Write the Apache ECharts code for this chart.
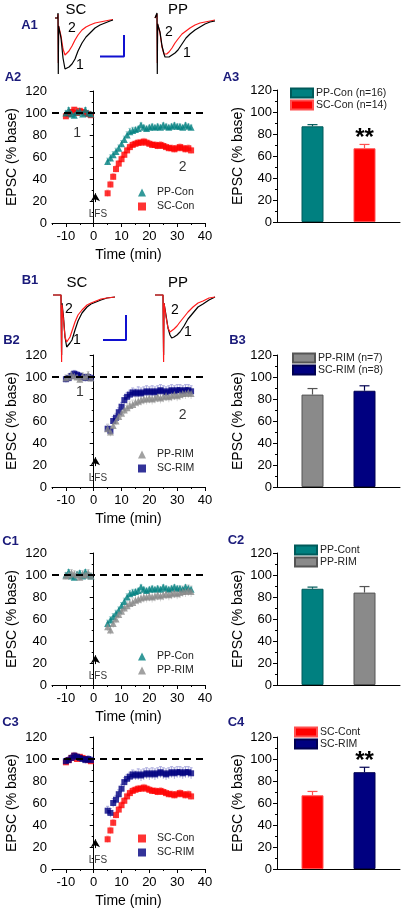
<!DOCTYPE html>
<html>
<head>
<meta charset="utf-8">
<script src="https://cdn.jsdelivr.net/npm/echarts@6/dist/echarts.min.js"></script>
<style>
html,body{margin:0;padding:0;background:#fff;}
#c{width:403px;height:909px;}
</style>
</head>
<body>
<div id="c"></div>
<script>
// ---------------- DATA ----------------
const T_BASE = [-10,-9,-8,-7,-6,-5,-4,-3,-2,-1];
const T_POST = [5,6,7,8,9,10,11,12,13,14,15,16,17,18,19,20,21,22,23,24,25,26,27,28,29,30,31,32,33,34,35];

const PP_CON_BASE = [100,103,99,98,101,102,99,103,100,99];
const PP_CON_POST = [56,59,62,65,68,72,76,80,83,84,85,86,89,87,86,87,88,87,88,87,89,88,87,88,89,88,88,87,89,88,87];
const SC_CON_BASE = [97,99,101,103,100,102,101,100,99,98];
const SC_CON_POST = [27,35,42,49,54,58,62,66,69,71,72,73,73,74,73,72,71,71,70,71,70,69,68,68,67,68,69,68,67,68,66];
const PP_RIM_BASE = [99,100,102,101,100,98,101,100,102,99];
const PP_RIM_POST = [53,50,56,60,64,67,70,72,74,75,77,78,79,80,80,81,80,81,82,81,82,83,82,83,84,83,84,85,85,86,85];
const SC_RIM_BASE = [98,99,101,103,102,101,100,99,100,99];
const SC_RIM_POST = [53,51,60,63,68,73,79,82,84,86,85,86,85,86,87,86,87,86,87,88,87,86,87,88,87,88,88,87,88,88,87];

// SEM of each time point (faint error bars)
const PP_CON_BASE_SEM = [2,2,2,2,2,2,2,2,2,2];
const PP_CON_POST_SEM = [3,3,3,3,3,3,3,3,3,3,2,2,2,2,2,2,2,2,2,2,2,2,2,2,2,2,2,2,2,2,2];
const SC_CON_BASE_SEM = [2,2,2,2,2,2,2,2,2,2];
const SC_CON_POST_SEM = [3,3,3,3,3,3,3,3,3,3,3,3,3,3,3,3,3,3,3,3,3,3,3,3,3,3,3,3,3,3,3];
const PP_RIM_BASE_SEM = [3,3,3,3,3,3,3,3,3,3];
const PP_RIM_POST_SEM = [4,4,4,4,4,4,4,4,4,4,5,5,5,5,5,5,5,5,5,5,5,5,5,5,5,5,5,5,5,5,5];
const SC_RIM_BASE_SEM = [3,3,3,3,3,3,3,3,3,3];
const SC_RIM_POST_SEM = [4,4,4,4,4,4,4,4,4,4,4,5,5,5,5,5,5,5,5,5,5,5,5,5,5,5,5,5,5,5,5];

const X_TICKS = [-10,0,10,20,30,40];
const X_MINOR = [-15,-5,5,15,25,35];

// bar panels: mean and SEM
const A3_NAMES = ['PP-Con (n=16)','SC-Con (n=14)'];
const A3_MEAN = [87, 67];
const A3_SEM = [1.5, 3.5];
const A3_SIG = ['', '**'];
const B3_NAMES = ['PP-RIM (n=7)','SC-RIM (n=8)'];
const B3_MEAN = [84, 87.5];
const B3_SEM = [5.5, 4.5];
const B3_SIG = ['', ''];
const C2_NAMES = ['PP-Cont','PP-RIM '];
const C2_MEAN = [87.5, 84];
const C2_SEM = [1.5, 5.5];
const C2_SIG = ['', ''];
const C4_NAMES = ['SC-Cont','SC-RIM '];
const C4_MEAN = [67, 88];
const C4_SEM = [3.5, 4.5];
const C4_SIG = ['', '**'];

// example traces (x in sample units, y relative to baseline)
const A1_SC_X  = [0,2.8,3,3.3,3.6,4.2,6,8,10,10.7,12,14,17,20,23,27,31,35,40,45,50,55,58];
const A1_SC_1  = [0,0,5,-56,-8,-6,-20,-40,-51,-52,-51,-49,-46,-41,-33,-25,-19,-15,-10,-7,-5,-3,-2];
const A1_SC_2  = [0,0,4,-45,-8,-6,-18,-31,-37,-37,-36,-33,-28,-22,-17,-12,-9,-7,-5,-4,-3,-2,-1.5];
const A1_PP_X  = [0,1.8,2,2.3,2.6,3.2,5,7,9,10,11.7,14,17,20,23,27,31,35,40,45,50,55,60];
const A1_PP_1  = [0,0,5,-56,-6,-4,-14,-28,-36,-39,-40,-39,-37,-35,-32,-26,-20,-16,-12,-9,-6,-4,-3];
const A1_PP_2  = [0,0,4,-45,-6,-4,-15,-29,-36,-37,-36,-34,-30,-25,-21,-16,-13,-10,-7,-5,-4,-3,-2];
const B1_SC_X  = [0,8,8.3,8.6,9,9.5,10.5,12,13.7,15,17,19,22,25,29,34,38,43,48,54,62];
const B1_SC_1  = [0,0,2,-60,-8,-7,-22,-42,-52,-51,-48,-45,-35,-26,-18,-12,-9,-7,-5,-3,-2];
const B1_SC_2  = [0,0,2,-67,-10,-8,-25,-42,-47,-46,-42,-36,-27,-20,-15,-10,-8,-6,-4,-3,-2];
const B1_PP_X  = [0,8,8.3,8.6,9,9.6,11,13,15,16.7,19,22,25,29,33,38,43,48,54,60];
const B1_PP_1  = [0,0,2,-60,-8,-6,-20,-33,-40,-43,-42,-40,-37,-31,-24,-18,-12,-9,-5,-2];
const B1_PP_2  = [0,0,2,-67,-8,-6,-22,-33,-37,-36,-34,-31,-27,-22,-17,-12,-8,-6,-3,-2];
// scale bars (in trace units)
const A1_BAR_X = [45,69,69];
const A1_BAR_Y = [-38.5,-38.5,-17];
const B1_BAR_X = [50,73,73];
const B1_BAR_Y = [-45,-45,-20];

// ---------------- STYLE ----------------
const FONT = 'Liberation Sans, Arial, sans-serif';
const TEAL = '#008080', RED = '#ff0000', GRAY = '#8a8a8a', NAVY = '#000080';
const LABEL_NAVY = '#1a1a7a';
const BAR_W = 22, BAR_GAP = 30;

const zip = (a, b) => a.map((v, i) => [v, b[i]]);
const zip3 = (a, b, c) => a.map((v, i) => [v, b[i], c[i]]);

const grids = [], xAxes = [], yAxes = [], series = [], legends = [], graphics = [];

function addGrid(g) { grids.push(g); return grids.length - 1; }

function traceGrid(left, top, xs, ys1, ys2, redOnTop, bar) {
  const gi = addGrid({left: left, top: top, width: 76, height: 76});
  const xi = xAxes.length;
  xAxes.push({type:'value', gridIndex: gi, min: 0, max: 76, show: false});
  yAxes.push({type:'value', gridIndex: gi, min: -70, max: 6, show: false});
  const black = {type:'line', xAxisIndex: xi, yAxisIndex: xi, data: zip(xs, ys1), showSymbol:false, symbol:'none',
    lineStyle:{color:'#000', width:1.2}, silent:true, clip:false, z: redOnTop ? 2 : 3};
  const red = {type:'line', xAxisIndex: xi, yAxisIndex: xi, data: zip(xs, ys2), showSymbol:false, symbol:'none',
    lineStyle:{color:'#ff1a1a', width:1.2}, silent:true, clip:false, z: redOnTop ? 3 : 2};
  series.push(black, red);
  if (bar) {
    series.push({type:'line', xAxisIndex: xi, yAxisIndex: xi, data: zip(bar[0], bar[1]), showSymbol:false, symbol:'none',
      lineStyle:{color:'#1010d0', width:2}, silent:true, clip:false});
  }
}

const yAxisCommon = (gi) => ({
  type:'value', gridIndex: gi, min:0, max:120, interval:20,
  name:'EPSC (% base)', nameLocation:'middle', nameGap:33, nameRotate:90,
  nameTextStyle:{fontFamily:FONT, fontSize:14, color:'#000'},
  axisLine:{show:true, lineStyle:{color:'#000', width:1}},
  axisTick:{show:true, length:4, lineStyle:{color:'#000'}},
  minorTick:{show:true, splitNumber:2, length:2, lineStyle:{color:'#000'}},
  axisLabel:{fontFamily:FONT, fontSize:13, color:'#000', margin:5},
  splitLine:{show:false}
});

function annot(xi, pts) {
  series.push({type:'scatter', xAxisIndex: xi, yAxisIndex: xi, symbolSize:0, silent:true, z:5,
    data: pts.map(p => ({value:[p[0], p[1]], label:{show:true, formatter:p[2], position:'inside',
      fontFamily:FONT, fontSize:p[3], color:'#000'}}))});
}

function semRender(color) {
  return function (params, api) {
    const t = api.value(0), v = api.value(1), e = api.value(2);
    const lo = api.coord([t, v - e]), hi = api.coord([t, v + e]);
    return {type:'group', children:[
      {type:'line', shape:{x1:lo[0], y1:lo[1], x2:hi[0], y2:hi[1]}, style:{stroke:color, lineWidth:1}},
      {type:'line', shape:{x1:hi[0]-1.5, y1:hi[1], x2:hi[0]+1.5, y2:hi[1]}, style:{stroke:color, lineWidth:1}}
    ]};
  };
}

function timeGrid(top, s1, s2, ones, legendTop, order) {
  const gi = addGrid({left: 52, top: top, width: 153, height: 132});
  const xi = xAxes.length;
  xAxes.push({type:'value', gridIndex: gi, min:-15, max:40,
    name:'Time (min)', nameLocation:'middle', nameGap:25,
    nameTextStyle:{fontFamily:FONT, fontSize:14, color:'#000'},
    axisLine:{show:true, onZero:false, lineStyle:{color:'#000', width:1}},
    axisTick:{show:true, length:4, customValues: X_TICKS, lineStyle:{color:'#000'}},
    axisLabel:{fontFamily:FONT, fontSize:13, color:'#000', margin:7, customValues: X_TICKS},
    splitLine:{show:false}});
  yAxes.push(yAxisCommon(gi));
  const xi2 = xAxes.length;
  xAxes.push({type:'value', gridIndex: gi, min:-15, max:40, position:'bottom',
    axisLine:{show:false}, axisLabel:{show:false}, splitLine:{show:false},
    axisTick:{show:true, length:2, customValues: X_MINOR, lineStyle:{color:'#000'}}});
  yAxes.push({type:'value', gridIndex: gi, min:0, max:120, show:false});

  [s1, s2].forEach(s => {
    series.push({type:'custom', xAxisIndex: xi, yAxisIndex: xi, z:1, silent:true,
      renderItem: semRender(s.semColor), encode:{x:0, y:1},
      data: zip3(T_BASE, s.base, s.baseSem).concat(zip3(T_POST, s.post, s.postSem))});
  });

  const mk = (s, z) => ({
    type:'scatter', name: s.name, xAxisIndex: xi, yAxisIndex: xi, z: z,
    symbol: s.symbol, symbolSize: s.size,
    itemStyle:{color: s.color},
    data: zip(T_BASE, s.base).concat(zip(T_POST, s.post)), silent:true
  });
  const a = mk(s1, 3), b = mk(s2, 4);
  a.markLine = {silent:true, symbol:'none', animation:false,
    lineStyle:{color:'#000', width:2, type:[7,5]}, label:{show:false},
    data:[{yAxis:100}]};
  b.markLine = {silent:true, symbol:['none','arrow'], symbolSize:[7,8], animation:false,
    lineStyle:{color:'#000', width:1, type:'solid'}, label:{show:false},
    data:[[{coord:[0.6, 19]}, {coord:[0.6, 27]}]]};
  series.push(a, b);
  const pts = [[1.5, 8, 'LFS', 10]];
  ones.forEach(o => pts.push(o));
  annot(xi, pts);
  legends.push({orient:'vertical', left:138, top: legendTop, padding:0, itemWidth:8, itemHeight:8, itemGap:1,
    selectedMode:false, data: order,
    textStyle:{fontFamily:FONT, fontSize:10.5, color:'#222', lineHeight:13, padding:[0,0,0,6]}});
}

function errRender(offset, color, sig) {
  return function (params, api) {
    const cat = api.value(0), m = api.value(1), e = api.value(2);
    const b = api.coord([cat, m]);
    const t = api.coord([cat, m + e]);
    const x = b[0] + offset;
    const ch = [
      {type:'line', shape:{x1:x, y1:b[1], x2:x, y2:t[1]}, style:{stroke:color, lineWidth:1.2}},
      {type:'line', shape:{x1:x-5, y1:t[1], x2:x+5, y2:t[1]}, style:{stroke:color, lineWidth:1.2}}
    ];
    if (sig) ch.push({type:'text', x:x, y:t[1]-6, style:{text:sig, font:'bold 24px ' + FONT,
      fill:'#000', align:'center', verticalAlign:'middle'}});
    return {type:'group', children: ch};
  };
}

function barGrid(top, names, means, sems, sigs, colors, borders, legendTop, legendLeft) {
  const gi = addGrid({left: 277, top: top, width: 123, height: 132});
  const xi = xAxes.length;
  xAxes.push({type:'category', gridIndex: gi, data:[''],
    axisLine:{show:true, lineStyle:{color:'#000', width:1}},
    axisTick:{show:false}, axisLabel:{show:false}, splitLine:{show:false}});
  yAxes.push(Object.assign(yAxisCommon(gi), {nameGap:32}));
  names.forEach((n, i) => {
    series.push({type:'bar', name:n, xAxisIndex: xi, yAxisIndex: xi, data:[means[i]],
      barWidth: BAR_W, barGap: (BAR_GAP / BAR_W * 100) + '%', silent:true,
      itemStyle:{color: colors[i], borderColor: borders[i], borderWidth: 1}});
  });
  names.forEach((n, i) => {
    const off = (i === 0 ? -1 : 1) * (BAR_W + BAR_GAP) / 2;
    series.push({type:'custom', xAxisIndex: xi, yAxisIndex: xi, z:5, silent:true,
      renderItem: errRender(off, borders[i], sigs[i]),
      encode:{x:0, y:1}, data:[[0, means[i], sems[i]]]});
  });
  legends.push({orient:'vertical', left: legendLeft, top: legendTop, padding:0, itemWidth:22, itemHeight:9, itemGap:0,
    selectedMode:false, data: names, icon:'rect',
    textStyle:{fontFamily:FONT, fontSize:10.5, color:'#222', lineHeight:12, padding:[0,0,0,-2]}});
}

// ---------------- BUILD ----------------
traceGrid(55, 12, A1_SC_X, A1_SC_1, A1_SC_2, false, [A1_BAR_X, A1_BAR_Y]);
traceGrid(155, 12, A1_PP_X, A1_PP_1, A1_PP_2, false, null);

const sPPCon = {name:'PP-Con', symbol:'triangle', size:7, color:TEAL, semColor:'#9fd0d0',
  base:PP_CON_BASE, post:PP_CON_POST, baseSem:PP_CON_BASE_SEM, postSem:PP_CON_POST_SEM};
const sSCCon = {name:'SC-Con', symbol:'rect', size:6, color:RED, semColor:'#ffb8b8',
  base:SC_CON_BASE, post:SC_CON_POST, baseSem:SC_CON_BASE_SEM, postSem:SC_CON_POST_SEM};
const sPPRim = {name:'PP-RIM', symbol:'triangle', size:7, color:GRAY, semColor:'#d4d4d4',
  base:PP_RIM_BASE, post:PP_RIM_POST, baseSem:PP_RIM_BASE_SEM, postSem:PP_RIM_POST_SEM};
const sSCRim = {name:'SC-RIM', symbol:'rect', size:6, color:NAVY, semColor:'#a8a8dc',
  base:SC_RIM_BASE, post:SC_RIM_POST, baseSem:SC_RIM_BASE_SEM, postSem:SC_RIM_POST_SEM};

timeGrid(91, sSCCon, sPPCon, [[-6, 82, '1', 14], [32, 51, '2', 14]], 186, ['PP-Con','SC-Con']);
barGrid(90, A3_NAMES, A3_MEAN, A3_SEM, A3_SIG, [TEAL, RED], ['#005a5a', '#ff5050'], 87, 290);

traceGrid(53, 289, B1_SC_X, B1_SC_1, B1_SC_2, true, [B1_BAR_X, B1_BAR_Y]);
traceGrid(155, 289, B1_PP_X, B1_PP_1, B1_PP_2, true, null);

timeGrid(355, sSCRim, sPPRim, [[-5, 86, '1', 14], [32, 65, '2', 14]], 448, ['PP-RIM','SC-RIM']);
barGrid(355, B3_NAMES, B3_MEAN, B3_SEM, B3_SIG, [GRAY, NAVY], ['#555555', '#000050'], 352, 292);

timeGrid(553, sPPCon, sPPRim, [], 650, ['PP-Con','PP-RIM']);
barGrid(553, C2_NAMES, C2_MEAN, C2_SEM, C2_SIG, [TEAL, GRAY], ['#005a5a', '#555555'], 544, 294);

timeGrid(737, sSCCon, sSCRim, [], 832, ['SC-Con','SC-RIM']);
barGrid(737, C4_NAMES, C4_MEAN, C4_SEM, C4_SIG, [RED, NAVY], ['#ff5050', '#000050'], 726, 294);

const labels = [
  ['A1', 29.5, 25], ['A2', 13, 77], ['A3', 231, 77],
  ['B1', 30, 280], ['B2', 11.5, 340], ['B3', 237.5, 340],
  ['C1', 10.5, 541], ['C2', 236, 540], ['C3', 10.5, 722], ['C4', 236, 722]
];
labels.forEach(l => graphics.push({type:'text', x:l[1], y:l[2], silent:true,
  style:{text:l[0], font:'bold 13px ' + FONT, fill:LABEL_NAVY, align:'center', verticalAlign:'middle'}}));
const titles = [
  ['SC', 76, 10, 15], ['PP', 178, 10, 15], ['SC', 77, 283, 15], ['PP', 178, 283, 15],
  ['2', 72, 28, 14], ['1', 80, 65, 14], ['2', 169, 32, 14], ['1', 187, 53, 14],
  ['2', 69, 309, 14], ['1', 77, 340, 14], ['2', 175, 310, 14], ['1', 188, 332, 14]
];
titles.forEach(l => graphics.push({type:'text', x:l[1], y:l[2], silent:true, z:10,
  style:{text:l[0], font:l[3] + 'px ' + FONT, fill:'#000', align:'center', verticalAlign:'middle'}}));

const chart = echarts.init(document.getElementById('c'), null, {renderer:'canvas'});
chart.setOption({
  animation:false,
  backgroundColor:'#fff',
  grid: grids, xAxis: xAxes, yAxis: yAxes, series: series, legend: legends,
  graphic: graphics
});
</script>
</body>
</html>
